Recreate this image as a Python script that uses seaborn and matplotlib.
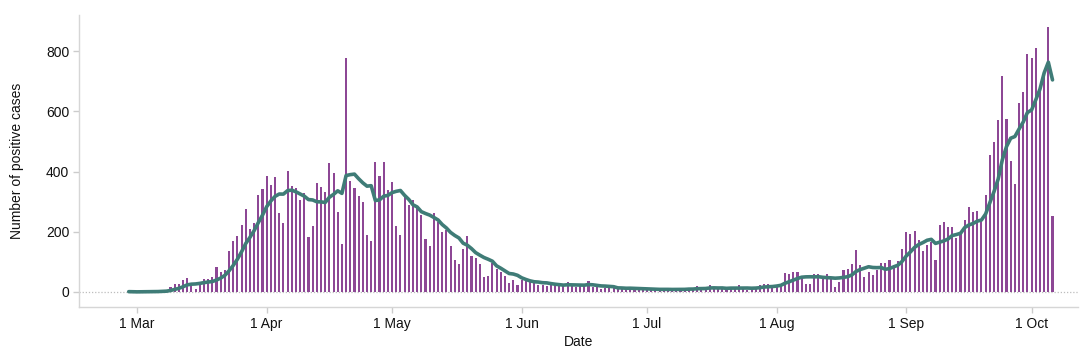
import numpy as np
import pandas as pd
import matplotlib
matplotlib.use("Agg")
import matplotlib.pyplot as plt
import matplotlib.dates as mdates
import seaborn as sns

# ---------------- data (daily positive cases, starting 28 Feb 2020) ----------------
start_date = "2020-02-28"
cases_feb_mar_early = [1, 0, 0, 1, 1, 2, 2, 3, 4, 5]                       # 28 Feb - 8 Mar
cases_mar_mid = [17, 25, 28, 39, 47, 20, 10, 30, 43, 42, 50]                # 9 - 19 Mar
cases_mar_late = [82, 66, 73, 136, 168, 187, 223, 275, 208, 230, 322, 341]  # 20 - 31 Mar
cases_apr_a = [384, 356, 381, 263, 228, 403, 352, 346, 306, 329]
cases_apr_b = [184, 219, 361, 349, 333, 427, 396, 267, 159, 776]
cases_apr_c = [370, 345, 320, 300, 190, 170, 431, 385, 431, 338]
cases_may_a = [365, 220, 189, 318, 290, 307, 287, 256, 177, 152]
cases_may_b = [263, 232, 200, 207, 153, 106, 94, 142, 185, 121]
cases_may_c = [113, 94, 51, 54, 97, 77, 66, 53, 31, 39, 24]
cases_jun_a = [39, 39, 33, 32, 24, 24, 20, 22, 25, 22]
cases_jun_b = [22, 32, 22, 16, 22, 22, 36, 16, 19, 9]
cases_jun_c = [12, 15, 15, 9, 13, 13, 10, 8, 12, 9]
cases_jul_a = [7, 10, 8, 6, 9, 11, 7, 8, 10, 9]
cases_jul_b = [12, 10, 20, 9, 10, 23, 11, 9, 11, 11]
cases_jul_c = [14, 11, 23, 14, 7, 7, 14, 23, 27, 28, 20]
cases_aug_a = [18, 24, 62, 58, 65, 66, 50, 26, 26, 60]
cases_aug_b = [61, 52, 58, 45, 18, 32, 73, 77, 93, 139]
cases_aug_c = [89, 50, 65, 56, 73, 97, 97, 105, 91, 102, 144]
cases_sep_a = [199, 192, 203, 172, 136, 156, 165, 105, 222, 231]
cases_sep_b = [216, 216, 180, 194, 239, 281, 266, 270, 242, 321]
cases_sep_c = [454, 498, 572, 718, 576, 436, 360, 628, 663, 792]
cases_oct = [777, 812, 685, 735, 879, 251]

tick_dates = ["2020-03-01", "2020-04-01", "2020-05-01", "2020-06-01",
              "2020-07-01", "2020-08-01", "2020-09-01", "2020-10-01"]
tick_labels = ["1 Mar", "1 Apr", "1 May", "1 Jun", "1 Jul", "1 Aug", "1 Sep", "1 Oct"]
y_ticks = [0, 200, 400, 600, 800]

cases = (cases_feb_mar_early + cases_mar_mid + cases_mar_late + cases_apr_a + cases_apr_b
         + cases_apr_c + cases_may_a + cases_may_b + cases_may_c + cases_jun_a + cases_jun_b
         + cases_jun_c + cases_jul_a + cases_jul_b + cases_jul_c + cases_aug_a + cases_aug_b
         + cases_aug_c + cases_sep_a + cases_sep_b + cases_sep_c + cases_oct)

dates = pd.date_range(start_date, periods=len(cases), freq="D")
df = pd.DataFrame({"date": dates, "cases": cases})
df["x"] = mdates.date2num(df["date"])
df["avg"] = df["cases"].rolling(7, min_periods=1).mean()

# ---------------- style ----------------
sns.set_style("white")
plt.rcParams["font.family"] = ["Liberation Sans", "DejaVu Sans"]

bar_color = "#8d4795"
line_color = "#3f7c77"
spine_color = "#d6d6d6"

fig = plt.figure(figsize=(10.8, 3.48), dpi=100)
ax = fig.add_axes([79 / 1080, 41 / 348, 999 / 1080, 292 / 348])

ax.axhline(0, color="#bdbdbd", linestyle=(0, (1, 1.5)), linewidth=0.9, zorder=0)

sns.barplot(data=df, x="x", y="cases", native_scale=True, width=0.5,
            color=bar_color, saturation=1, errorbar=None, linewidth=0, ax=ax)
sns.lineplot(data=df, x="x", y="avg", color=line_color, linewidth=2.6,
             solid_capstyle="round", solid_joinstyle="round", ax=ax)

mar1 = mdates.date2num(pd.Timestamp("2020-03-01"))
ax.set_xlim(mar1 - 13.9, mar1 + 225.1)
ax.set_ylim(-50, 920)

ax.set_xticks(mdates.date2num(pd.to_datetime(tick_dates)))
ax.set_xticklabels(tick_labels)
ax.set_yticks(y_ticks)
ax.set_yticklabels([str(v) for v in y_ticks])

for s in ["top", "right"]:
    ax.spines[s].set_visible(False)
for s in ["left", "bottom"]:
    ax.spines[s].set_color(spine_color)
    ax.spines[s].set_linewidth(1.0)

ax.tick_params(axis="both", which="major", length=4, width=1, color="#cccccc",
               labelsize=10, labelcolor="#111111", pad=3, bottom=True, left=True)

ax.set_xlabel("Date", fontsize=10, labelpad=3, color="#111111")
ax.set_ylabel("Number of positive cases", fontsize=10, labelpad=16, color="#111111")
ax.grid(False)

fig.savefig("out.png", dpi=100)
